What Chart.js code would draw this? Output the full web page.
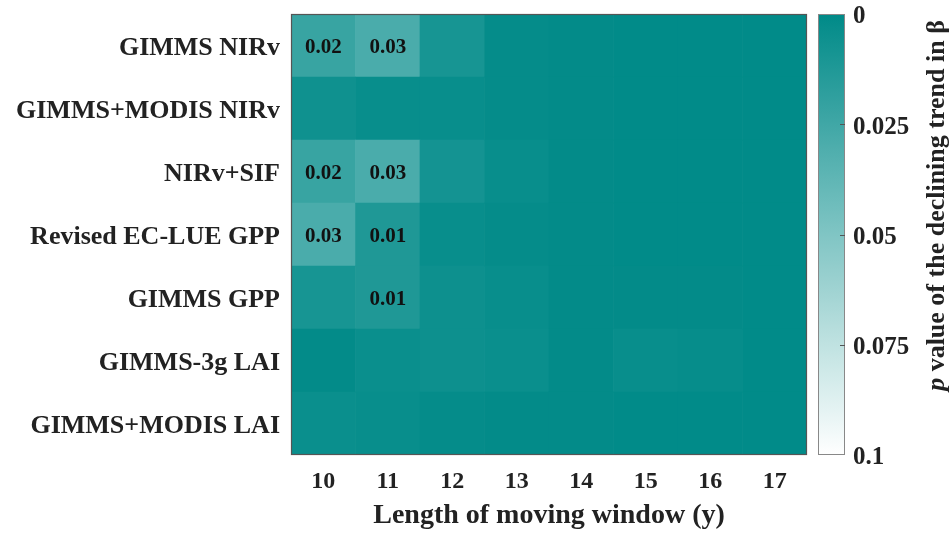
<!DOCTYPE html>
<html>
<head>
<meta charset="utf-8">
<script src="https://cdn.jsdelivr.net/npm/chart.js@4.4.1/dist/chart.umd.min.js"></script>
<style>
  html, body { margin: 0; padding: 0; background: #ffffff; }
  #wrap { width: 950px; height: 534px; position: relative; }
</style>
</head>
<body>
<div id="wrap"><canvas id="c" width="950" height="534"></canvas></div>
<script>
// ---- data (top row first) ----
const rowLabels = ['GIMMS NIRv', 'GIMMS+MODIS NIRv', 'NIRv+SIF', 'Revised EC-LUE GPP', 'GIMMS GPP', 'GIMMS-3g LAI', 'GIMMS+MODIS LAI'];
const windowLengths = ['10', '11', '12', '13', '14', '15', '16', '17'];
const pGimmsNirv      = [0.022, 0.029, 0.009, 0.002, 0.001, 0.0005, 0.0005, 0.0005];
const pGimmsModisNirv = [0.006, 0.003, 0.003, 0.002, 0.001, 0.0005, 0.0005, 0.0005];
const pNirvSif        = [0.022, 0.029, 0.008, 0.003, 0.001, 0.0005, 0.0005, 0.0005];
const pRevisedEcLue   = [0.029, 0.012, 0.003, 0.002, 0.001, 0.0005, 0.0005, 0.0005];
const pGimmsGpp       = [0.009, 0.012, 0.005, 0.003, 0.001, 0.001, 0.001, 0.0005];
const pGimms3gLai     = [0.001, 0.004, 0.005, 0.004, 0.001, 0.003, 0.0025, 0.0005];
const pGimmsModisLai  = [0.004, 0.003, 0.002, 0.001, 0.001, 0.0005, 0.0005, 0.0005];
const colorbarTicks = [0, 0.025, 0.05, 0.075, 0.1];
const pMax = 0.1;

const rowValues = [pGimmsNirv, pGimmsModisNirv, pNirvSif, pRevisedEcLue, pGimmsGpp, pGimms3gLai, pGimmsModisLai];

// ---- colour map: teal (p=0) -> white (p=0.1) ----
const teal = [0, 138, 136];
function pColor(v) {
  const t = Math.max(0, Math.min(1, v / pMax));
  const c = teal.map(ch => Math.round(ch + (255 - ch) * t));
  return `rgb(${c[0]},${c[1]},${c[2]})`;
}

const FONT = "'Liberation Serif', 'Times New Roman', serif";
const TXT = '#222222';

// build stacked datasets bottom-up
const datasets = [];
for (let r = rowLabels.length - 1; r >= 0; r--) {
  const vals = rowValues[r];
  datasets.push({
    label: rowLabels[r],
    data: vals.map(() => 1),
    pValues: vals,
    backgroundColor: vals.map(pColor),
    borderWidth: 0,
    barPercentage: 1,
    categoryPercentage: 1,
    yAxisID: 'y'
  });
}

const heatPlugin = {
  id: 'heatExtras',
  afterDatasetsDraw(chart) {
    const ctx = chart.ctx;
    const a = chart.chartArea;
    // cell labels
    ctx.save();
    ctx.font = `bold 21px ${FONT}`;
    ctx.fillStyle = '#111111';
    ctx.textAlign = 'center';
    ctx.textBaseline = 'middle';
    chart.data.datasets.forEach((ds, di) => {
      const meta = chart.getDatasetMeta(di);
      meta.data.forEach((bar, i) => {
        const v = ds.pValues[i];
        if (v >= 0.01) {
          const cy = (bar.y + bar.base) / 2;
          ctx.fillText(v.toFixed(2), bar.x, cy + 2);
        }
      });
    });
    // plot frame
    ctx.strokeStyle = '#555555';
    ctx.lineWidth = 1.2;
    ctx.strokeRect(a.left + 0.5, a.top + 0.5, a.right - a.left - 1, a.bottom - a.top - 1);
    ctx.restore();

    // colour bar
    const cb = chart.scales.cb;
    const x0 = a.right + 11, w = 27;
    const yTop = cb.getPixelForValue(0), yBot = cb.getPixelForValue(pMax);
    const g = ctx.createLinearGradient(0, yTop, 0, yBot);
    for (let k = 0; k <= 10; k++) g.addColorStop(k / 10, pColor(pMax * k / 10));
    ctx.save();
    ctx.fillStyle = g;
    ctx.fillRect(x0, yTop, w, yBot - yTop);
    ctx.strokeStyle = '#888888';
    ctx.lineWidth = 1;
    ctx.strokeRect(x0 + 0.5, yTop + 0.5, w - 1, yBot - yTop - 1);
    // tick marks inside bar at right edge
    ctx.strokeStyle = '#555555';
    colorbarTicks.forEach(t => {
      if (t === 0 || t === pMax) return;
      const y = Math.round(cb.getPixelForValue(t)) + 0.5;
      ctx.beginPath();
      ctx.moveTo(x0 + w - 5, y);
      ctx.lineTo(x0 + w, y);
      ctx.stroke();
    });
    // colour bar title (rotated, p italic)
    ctx.translate(937, (a.top + a.bottom) / 2 - 29);
    ctx.rotate(-Math.PI / 2);
    ctx.fillStyle = TXT;
    ctx.textBaseline = 'middle';
    const part1 = 'p';
    const part2 = ' value of the declining trend in β';
    ctx.font = `italic bold 26px ${FONT}`;
    const w1 = ctx.measureText(part1).width;
    ctx.font = `bold 26px ${FONT}`;
    const w2 = ctx.measureText(part2).width;
    let sx = -(w1 + w2) / 2;
    ctx.textAlign = 'left';
    ctx.font = `italic bold 26px ${FONT}`;
    ctx.fillText(part1, sx, 0);
    ctx.font = `bold 26px ${FONT}`;
    ctx.fillText(part2, sx + w1, 0);
    ctx.restore();
  }
};

new Chart(document.getElementById('c'), {
  type: 'bar',
  data: { labels: windowLengths, datasets },
  options: {
    responsive: false,
    animation: false,
    events: [],
    layout: { padding: { top: 14, left: 0, right: 0, bottom: 0 } },
    plugins: { legend: { display: false }, tooltip: { enabled: false } },
    scales: {
      x: {
        stacked: true,
        grid: { display: false, drawTicks: true, tickLength: 12 },
        border: { display: false },
        ticks: { color: TXT, font: { family: FONT, size: 24, weight: 'bold' }, padding: 0 },
        title: { display: true, text: 'Length of moving window (y)', color: TXT,
                 font: { family: FONT, size: 28, weight: 'bold' }, padding: { top: 0, bottom: 1 } },
        afterFit(s) { s.height = 79; }
      },
      y: {
        stacked: true,
        min: 0, max: rowLabels.length,
        grid: { display: false, drawTicks: true, tickLength: 11 },
        border: { display: false },
        afterBuildTicks(s) { s.ticks = rowLabels.map((_, i) => ({ value: i + 0.5 })); },
        ticks: {
          color: TXT, padding: 0, autoSkip: false, labelOffset: 3,
          font: { family: FONT, size: 26, weight: 'bold', lineHeight: 1 },
          callback: (v) => rowLabels[rowLabels.length - 1 - Math.floor(v)]
        },
        afterFit(s) { s.width = 291; }
      },
      cb: {
        position: 'right',
        min: 0, max: pMax, reverse: true,
        grid: { display: false, drawTicks: true, tickLength: 46 },
        border: { display: false },
        afterBuildTicks(s) { s.ticks = colorbarTicks.map(v => ({ value: v })); },
        ticks: {
          color: TXT, padding: 0, autoSkip: false, labelOffset: 3,
          font: { family: FONT, size: 25, weight: 'bold', lineHeight: 1 },
          callback: (v) => String(v)
        },
        afterFit(s) { s.width = 143; }
      }
    }
  },
  plugins: [heatPlugin]
});
</script>
</body>
</html>
